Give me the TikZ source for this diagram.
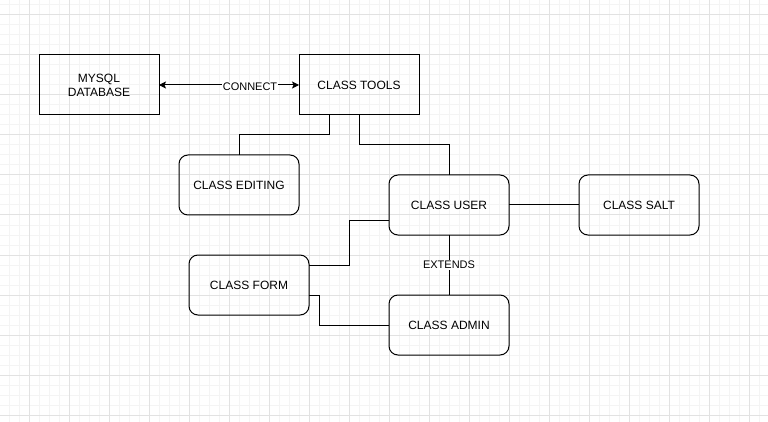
\documentclass[tikz,border=0pt]{standalone}
\usepackage{fontspec}
\setmainfont{Liberation Sans}
\usetikzlibrary{arrows.meta}
\definecolor{gridminor}{RGB}{244,244,244}
\definecolor{gridmajor}{RGB}{226,226,226}
\tikzset{
  classbox/.style={draw=black, line width=1pt, rounded corners=9pt, minimum width=120pt, minimum height=60pt,
    inner sep=0pt, outer sep=0pt, align=center, font=\fontsize{12}{14}\selectfont},
  plainbox/.style={classbox, rounded corners=0pt},
  conn/.style={draw=black, line width=1pt},
  elabel/.style={fill=white, inner sep=1pt, font=\fontsize{11}{13}\selectfont},
  tip/.style={{Stealth[length=7pt,width=7pt,inset=1.5pt]}-{Stealth[length=7pt,width=7pt,inset=1.5pt]}}
}
\begin{document}
\begin{tikzpicture}[x=1pt,y=-1pt]
\useasboundingbox (0,0) rectangle (768,422);
\fill[white] (0,0) rectangle (768,422);
% grid
\foreach \x in {9,19,...,759} {\draw[gridminor, line width=1pt] (\x,0) -- (\x,422);}
\foreach \y in {5,15,...,415} {\draw[gridminor, line width=1pt] (0,\y) -- (768,\y);}
\foreach \x in {29,69,...,749} {\draw[gridmajor, line width=1pt] (\x,0) -- (\x,422);}
\foreach \y in {15,55,...,415} {\draw[gridmajor, line width=1pt] (0,\y) -- (768,\y);}
% nodes
\node[plainbox] (db) at (99,85) {MYSQL\\DATABASE};
\node[plainbox] (tools) at (359,85) {CLASS TOOLS};
\node[classbox] (edit) at (239,185) {CLASS EDITING};
\node[classbox] (user) at (449,205) {CLASS USER};
\node[classbox] (salt) at (639,205) {CLASS SALT};
\node[classbox] (form) at (249,285) {CLASS FORM};
\node[classbox] (admin) at (449,325) {CLASS ADMIN};
% connectors
\draw[conn, tip] (db) -- node[elabel, pos=0.65, yshift=-2pt] {CONNECT} (tools);
\draw[conn] ([xshift=-30pt]tools.south) -- ++(0,20) -| (edit.north);
\draw[conn] (tools.south) -- ++(0,30) -| (user.north);
\draw[conn] (user) -- (salt);
\draw[conn] ([yshift=20pt]form.east) -- ++(40,0) |- ([yshift=-15pt]user.west);
\draw[conn] ([yshift=-10pt]form.east) -- ++(10,0) |- (admin.west);
\draw[conn] (user) -- node[elabel] {EXTENDS} (admin);
\end{tikzpicture}
\end{document}
